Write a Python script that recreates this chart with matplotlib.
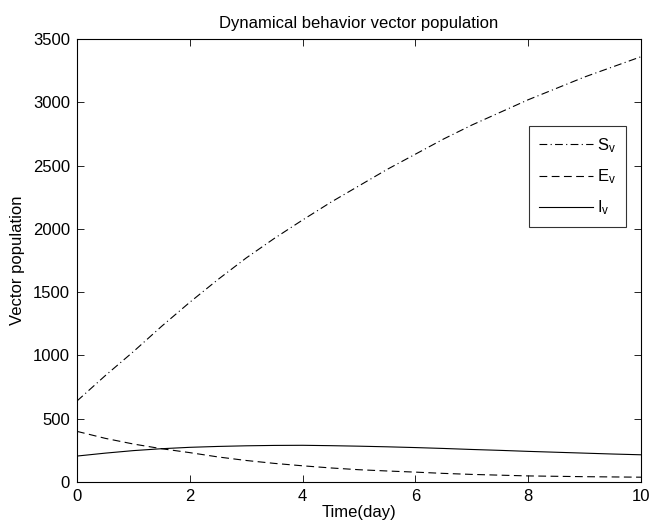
import matplotlib
matplotlib.use("Agg")
import matplotlib.pyplot as plt

t = [0, 0.5, 1, 1.5, 2, 2.5, 3, 3.5, 4, 4.5, 5, 5.5, 6, 6.5, 7, 7.5, 8, 8.5, 9, 9.5, 10]
S_v = [640, 840, 1030, 1230, 1420, 1600, 1770, 1925, 2070, 2210, 2340, 2470, 2590, 2710, 2820, 2920, 3020, 3110, 3200, 3280, 3360]
E_v = [400, 345, 300, 263, 232, 198, 170, 147, 128, 111, 97, 87, 78, 68, 60, 54, 48, 45, 42, 40, 38]
I_v = [205, 228, 248, 263, 274, 281, 286, 289, 290, 287, 283, 278, 272, 265, 257, 250, 242, 235, 228, 221, 215]

xticks = [0, 2, 4, 6, 8, 10]
yticks = [0, 500, 1000, 1500, 2000, 2500, 3000, 3500]

plt.rcParams['font.family'] = ['Liberation Sans', 'DejaVu Sans']
plt.rcParams['mathtext.fontset'] = 'custom'
plt.rcParams['mathtext.rm'] = 'Liberation Sans'
plt.rcParams['mathtext.it'] = 'Liberation Sans'

fig = plt.figure(figsize=(6.5, 5.26), dpi=100)
ax = fig.add_axes([77/650, 1 - 482/526, (641 - 77)/650, (482 - 39)/526])

ax.plot(t, S_v, color='black', lw=0.8, dashes=[7, 3, 1, 3], label=r'S$_\mathrm{v}$')
ax.plot(t, E_v, color='black', lw=0.8, dashes=[7, 4], label=r'E$_\mathrm{v}$')
ax.plot(t, I_v, color='black', lw=0.8, linestyle='-', label=r'I$_\mathrm{v}$')

ax.set_xlim(0, 10)
ax.set_ylim(0, 3500)
ax.set_xticks(xticks)
ax.set_yticks(yticks)
ax.tick_params(direction='in', top=True, right=True, length=5, width=0.6, labelsize=12, pad=5)
for s in ax.spines.values():
    s.set_linewidth(0.8)

ax.set_title('Dynamical behavior vector population', fontsize=12, pad=8)
ax.set_xlabel('Time(day)', fontsize=12, labelpad=1)
ax.set_ylabel('Vector population', fontsize=12, labelpad=6)

leg = ax.legend(loc='upper right', bbox_to_anchor=(0.973, 0.803), frameon=True, fancybox=False,
                edgecolor='black', fontsize=12, handlelength=3.2, handletextpad=0.25,
                borderaxespad=0, labelspacing=0.75, borderpad=0.6)
leg.get_frame().set_linewidth(0.8)

fig.savefig('out.png', dpi=100)
